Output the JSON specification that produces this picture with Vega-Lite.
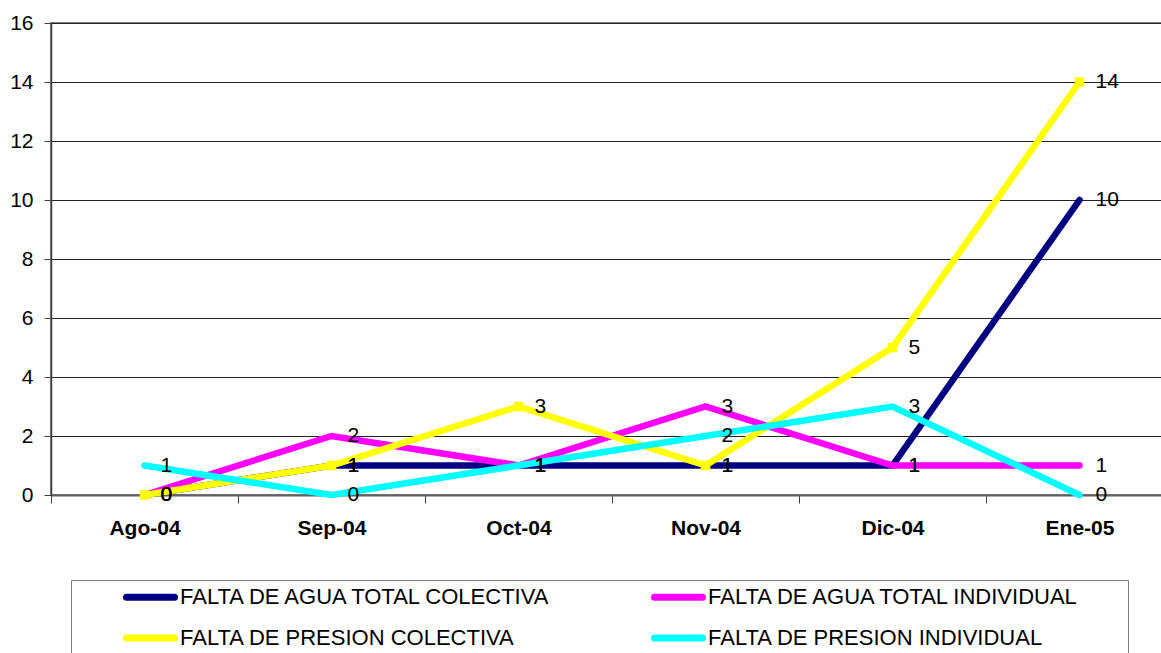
{
  "$schema": "https://vega.github.io/schema/vega-lite/v6.json",
  "width": 1122,
  "height": 472,
  "autosize": {"type": "none"},
  "padding": {"left": 51, "top": 23, "right": 0, "bottom": 158},
  "background": "white",
  "config": {
    "font": "Liberation Sans",
    "view": {"stroke": "#808080", "strokeWidth": 2},
    "axis": {"labelFont": "Liberation Sans", "labelFontSize": 21, "labelColor": "black"}
  },
  "data": {
    "values": [
      {"serie": "FALTA DE AGUA TOTAL COLECTIVA", "mes": "Ago-04", "valor": 0},
      {"serie": "FALTA DE AGUA TOTAL COLECTIVA", "mes": "Sep-04", "valor": 1},
      {"serie": "FALTA DE AGUA TOTAL COLECTIVA", "mes": "Oct-04", "valor": 1},
      {"serie": "FALTA DE AGUA TOTAL COLECTIVA", "mes": "Nov-04", "valor": 1},
      {"serie": "FALTA DE AGUA TOTAL COLECTIVA", "mes": "Dic-04", "valor": 1},
      {"serie": "FALTA DE AGUA TOTAL COLECTIVA", "mes": "Ene-05", "valor": 10},
      {"serie": "FALTA DE AGUA TOTAL INDIVIDUAL", "mes": "Ago-04", "valor": 0},
      {"serie": "FALTA DE AGUA TOTAL INDIVIDUAL", "mes": "Sep-04", "valor": 2},
      {"serie": "FALTA DE AGUA TOTAL INDIVIDUAL", "mes": "Oct-04", "valor": 1},
      {"serie": "FALTA DE AGUA TOTAL INDIVIDUAL", "mes": "Nov-04", "valor": 3},
      {"serie": "FALTA DE AGUA TOTAL INDIVIDUAL", "mes": "Dic-04", "valor": 1},
      {"serie": "FALTA DE AGUA TOTAL INDIVIDUAL", "mes": "Ene-05", "valor": 1},
      {"serie": "FALTA DE PRESION COLECTIVA", "mes": "Ago-04", "valor": 0},
      {"serie": "FALTA DE PRESION COLECTIVA", "mes": "Sep-04", "valor": 1},
      {"serie": "FALTA DE PRESION COLECTIVA", "mes": "Oct-04", "valor": 3},
      {"serie": "FALTA DE PRESION COLECTIVA", "mes": "Nov-04", "valor": 1},
      {"serie": "FALTA DE PRESION COLECTIVA", "mes": "Dic-04", "valor": 5},
      {"serie": "FALTA DE PRESION COLECTIVA", "mes": "Ene-05", "valor": 14},
      {"serie": "FALTA DE PRESION INDIVIDUAL", "mes": "Ago-04", "valor": 1},
      {"serie": "FALTA DE PRESION INDIVIDUAL", "mes": "Sep-04", "valor": 0},
      {"serie": "FALTA DE PRESION INDIVIDUAL", "mes": "Oct-04", "valor": 1},
      {"serie": "FALTA DE PRESION INDIVIDUAL", "mes": "Nov-04", "valor": 2},
      {"serie": "FALTA DE PRESION INDIVIDUAL", "mes": "Dic-04", "valor": 3},
      {"serie": "FALTA DE PRESION INDIVIDUAL", "mes": "Ene-05", "valor": 0}
    ]
  },
  "encoding": {
    "x": {
      "field": "mes", "type": "nominal", "bandPosition": 0.5,
      "scale": {"type": "band", "paddingInner": 0, "paddingOuter": 0,
        "domain": ["Ago-04", "Sep-04", "Oct-04", "Nov-04", "Dic-04", "Ene-05"]},
      "axis": {"title": null, "labelAngle": 0, "labelFontWeight": "bold", "tickBand": "extent",
        "tickSize": 8, "tickColor": "#404040", "domainColor": "#606060", "domainWidth": 2,
        "labelPadding": 14, "grid": false}
    },
    "y": {
      "field": "valor", "type": "quantitative",
      "scale": {"domain": [0, 16], "nice": false, "zero": true},
      "axis": {"title": null, "values": [0, 2, 4, 6, 8, 10, 12, 14, 16], "tickSize": 7,
        "tickColor": "#404040", "labelPadding": 11, "grid": true, "gridColor": "#222222",
        "gridWidth": 1, "domainColor": "#404040", "domainWidth": 1.5}
    }
  },
  "layer": [
    {
      "mark": {"type": "line", "strokeWidth": 6.5, "strokeCap": "round"},
      "encoding": {
        "color": {
          "field": "serie", "type": "nominal",
          "scale": {
            "domain": ["FALTA DE AGUA TOTAL COLECTIVA", "FALTA DE AGUA TOTAL INDIVIDUAL", "FALTA DE PRESION COLECTIVA", "FALTA DE PRESION INDIVIDUAL"],
            "range": ["#000080", "#FF00FF", "#FFFF00", "#00FFFF"]
          },
          "legend": {
            "orient": "none", "legendX": 20, "legendY": 557, "columns": 2, "direction": "horizontal",
            "title": "\u00a0", "titleOrient": "left", "titleFontSize": 1, "titlePadding": 46.5, "titleAngle": 0,
            "strokeColor": "#808080", "fillColor": "white", "padding": 5.5,
            "symbolType": "M-3,0H3M53.7,0", "symbolSize": 256, "symbolStrokeWidth": 7, "symbolOffset": 16,
            "labelFont": "Liberation Sans", "labelFontSize": 22, "labelColor": "black",
            "labelOffset": 18, "labelLimit": 1000, "columnPadding": 45, "rowPadding": 12,
            "encode": {"symbols": {"update": {"strokeCap": {"value": "round"}}}}
          }
        }
      }
    },
    {
      "transform": [{"filter": "datum.serie == 'FALTA DE PRESION COLECTIVA'"}],
      "mark": {"type": "point", "shape": "square", "filled": true, "size": 90, "color": "#FFFF00", "opacity": 1}
    },
    {
      "mark": {"type": "text", "align": "left", "baseline": "middle", "dx": 16, "fontSize": 21, "font": "Liberation Sans", "color": "black"},
      "encoding": {"text": {"field": "valor", "type": "quantitative"}}
    }
  ]
}
